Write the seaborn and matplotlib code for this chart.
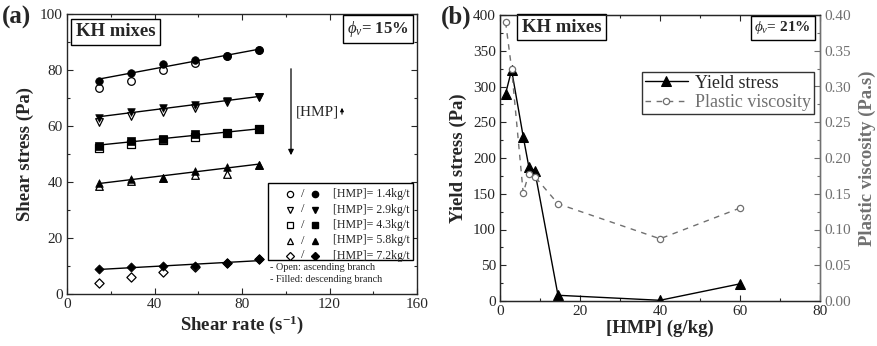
import numpy as np
import pandas as pd
import matplotlib
matplotlib.use("Agg")
import matplotlib.pyplot as plt
import seaborn as sns
from matplotlib.patches import Rectangle
from matplotlib.ticker import MultipleLocator

sns.set_style("ticks")
plt.rcParams['font.family'] = ['Liberation Serif', 'DejaVu Serif']
plt.rcParams['mathtext.fontset'] = 'custom'
plt.rcParams['mathtext.rm'] = 'Liberation Serif'
plt.rcParams['mathtext.it'] = 'Liberation Serif:italic'
plt.rcParams['mathtext.bf'] = 'Liberation Serif:bold'
plt.rcParams['mathtext.bfit'] = 'Liberation Serif:bold:italic'

# ---------------- data panel (a) ----------------
shear_rate = [14.6, 29.2, 43.8, 58.4, 73.0, 87.6]
hmp_labels = ["[HMP]= 1.4kg/t", "[HMP]= 2.9kg/t", "[HMP]= 4.3kg/t",
              "[HMP]= 5.8kg/t", "[HMP]= 7.2kg/t"]
markers_a = ["o", "v", "s", "^", "D"]
asc_14 = [73.5, 76.0, 80.0, 82.5, 85.0, 87.0]
desc_14 = [76.0, 79.0, 82.0, 83.5, 85.0, 87.0]
asc_29 = [61.5, 63.5, 65.0, 66.5, 68.5, 70.5]
desc_29 = [63.0, 65.0, 66.5, 67.5, 69.0, 70.5]
asc_43 = [52.0, 53.5, 55.0, 56.0, 57.5, 59.0]
desc_43 = [53.0, 54.5, 55.5, 57.0, 57.5, 59.0]
asc_58 = [38.5, 40.5, 41.5, 42.5, 43.0, 46.0]
desc_58 = [39.5, 41.0, 41.5, 44.0, 45.5, 46.0]
asc_72 = [4.0, 6.0, 8.0, 9.5, 11.0, 12.5]
desc_72 = [9.0, 9.5, 10.0, 10.0, 11.0, 12.5]
asc_all = [asc_14, asc_29, asc_43, asc_58, asc_72]
desc_all = [desc_14, desc_29, desc_43, desc_58, desc_72]

# ---------------- data panel (b) ----------------
hmp_ys = [1.4, 2.9, 5.8, 7.2, 8.7, 14.5, 40, 60]
yield_stress = [290, 323, 230, 188, 182, 8, 1, 24]
hmp_pv = [1.4, 2.9, 5.8, 7.2, 8.7, 14.5, 40, 60]
plastic_visc = [0.390, 0.325, 0.151, 0.178, 0.174, 0.136, 0.087, 0.130]

W, H = 877, 346
fig = plt.figure(figsize=(W / 100, H / 100), dpi=100)

def fx(px):
    return px / W

def fy(py):
    return 1 - py / H

ax1 = fig.add_axes([fx(67), fy(294), fx(417 - 67), (294 - 14) / H])
ax2 = fig.add_axes([fx(500), fy(301), fx(820 - 500), (301 - 15) / H])

tick_fs = 11
for ax in (ax1, ax2):
    ax.tick_params(direction="in", which="both", top=True, labelsize=tick_fs,
                   width=0.8, pad=3)
    ax.tick_params(which="major", length=4)
    ax.tick_params(which="minor", length=2)
    for s in ax.spines.values():
        s.set_linewidth(1.0)

# ---------- panel (a) ----------
msizes = [30, 30, 26, 30, 22]
for i in range(5):
    m = markers_a[i]
    dfa = pd.DataFrame({"x": shear_rate, "y": asc_all[i]})
    dfd = pd.DataFrame({"x": shear_rate, "y": desc_all[i]})
    sns.scatterplot(data=dfa, x="x", y="y", ax=ax1, marker=m, s=msizes[i],
                    facecolor="white", edgecolor="black", linewidth=0.9, zorder=3)
    sns.scatterplot(data=dfd, x="x", y="y", ax=ax1, marker=m, s=msizes[i],
                    color="black", edgecolor="black", linewidth=0.5, zorder=4)
    coef = np.polyfit(shear_rate, desc_all[i], 1)
    xs = np.array([shear_rate[0], shear_rate[-1]])
    ax1.plot(xs, np.polyval(coef, xs), color="black", lw=1.0, zorder=2)

ax1.set_xlim(0, 160)
ax1.set_ylim(0, 100)
ax1.xaxis.set_major_locator(MultipleLocator(40))
ax1.xaxis.set_minor_locator(MultipleLocator(20))
ax1.yaxis.set_major_locator(MultipleLocator(20))
ax1.yaxis.set_minor_locator(MultipleLocator(10))
ax1.tick_params(right=True, which="both")
ax1.set_xlabel("Shear rate (s$^{\\mathbf{-1}}$)", fontsize=13.5, fontweight="bold", labelpad=2)
ax1.set_ylabel("Shear stress (Pa)", fontsize=13.5, fontweight="bold", labelpad=4)

box = dict(boxstyle="square,pad=0.25", fc="white", ec="black", lw=1.0)
ax1.text(fx(76), fy(32), "KH mixes", transform=fig.transFigure, fontsize=13.5,
         fontweight="bold", va="center", ha="left", bbox=box)
ax1.text(fx(409), fy(29), "$\\boldsymbol{\\phi_v}$= 15%", transform=fig.transFigure,
         fontsize=12, fontweight="bold", va="center", ha="right", bbox=box)
fig.text(fx(2), fy(17), "(a)", fontsize=18, fontweight="bold", va="center", ha="left")

# arrow and [HMP]
ax1.annotate("", xy=(fx(291), fy(158)), xytext=(fx(291), fy(66)),
             xycoords="figure fraction", textcoords="figure fraction",
             arrowprops=dict(arrowstyle="-|>", color="black", lw=0.9,
                             mutation_scale=8))
fig.text(fx(296), fy(112), "[HMP]", fontsize=11, va="center", ha="left")
ax1.annotate("", xy=(fx(342), fy(105)), xytext=(fx(342), fy(117)),
             xycoords="figure fraction", textcoords="figure fraction",
             arrowprops=dict(arrowstyle="-|>", color="black", lw=0.8,
                             mutation_scale=5))

# custom legend (a)
fig.patches.append(Rectangle((fx(268), fy(260)), fx(413 - 268), (260 - 183) / H,
                             transform=fig.transFigure, fc="white", ec="black",
                             lw=1.0, zorder=5))
row_y = [194.5, 210, 225.5, 241, 256]
leg_ms = [4.5, 4.5, 4.0, 4.5, 4.0]
for i in range(5):
    yy = row_y[i] - 0.5
    fig.lines.append(plt.Line2D([fx(290)], [fy(yy)], transform=fig.transFigure,
                                marker=markers_a[i], ms=leg_ms[i], mfc="white", mec="black",
                                mew=0.9, ls="none", zorder=6))
    fig.text(fx(303), fy(yy), "/", fontsize=9, va="center", ha="center", zorder=6)
    fig.lines.append(plt.Line2D([fx(315)], [fy(yy)], transform=fig.transFigure,
                                marker=markers_a[i], ms=leg_ms[i], mfc="black", mec="black",
                                ls="none", zorder=6))
    fig.text(fx(333), fy(yy), hmp_labels[i], fontsize=8.6, va="center", ha="left", zorder=6)
fig.text(fx(270), fy(267), "- Open: ascending branch", fontsize=7.4, va="center", ha="left")
fig.text(fx(270), fy(280), "- Filled: descending branch", fontsize=7.4, va="center", ha="left")

# ---------- panel (b) ----------
dys = pd.DataFrame({"x": hmp_ys, "y": yield_stress})
sns.lineplot(data=dys, x="x", y="y", ax=ax2, color="black", lw=1.0, marker="^",
             ms=6.5, mec="black", label="Yield stress", legend=False)
ax2.set_xlim(0, 80)
ax2.set_ylim(0, 400)
ax2.xaxis.set_major_locator(MultipleLocator(20))
ax2.xaxis.set_minor_locator(MultipleLocator(10))
ax2.yaxis.set_major_locator(MultipleLocator(50))
ax2.yaxis.set_minor_locator(MultipleLocator(25))
ax2.set_xlabel("[HMP] (g/kg)", fontsize=13.5, fontweight="bold", labelpad=1)
ax2.set_ylabel("Yield stress (Pa)", fontsize=13.5, fontweight="bold", labelpad=4)

gray = "#707070"
ax3 = ax2.twinx()
dpv = pd.DataFrame({"x": hmp_pv, "y": plastic_visc})
sns.lineplot(data=dpv, x="x", y="y", ax=ax3, color=gray, lw=1.0, ls=(0, (4, 4)),
             marker="o", ms=4.5, mfc="white", mec=gray, mew=0.9,
             label="Plastic viscosity", legend=False)
ax3.set_ylim(0, 0.40)
ax3.yaxis.set_major_locator(MultipleLocator(0.05))
ax3.yaxis.set_minor_locator(MultipleLocator(0.025))
ax3.yaxis.set_major_formatter(matplotlib.ticker.FormatStrFormatter("%.2f"))
ax3.tick_params(direction="in", which="both", labelsize=tick_fs, colors=gray,
                width=0.8, pad=3)
ax3.tick_params(which="major", length=4)
ax3.tick_params(which="minor", length=2)
ax3.spines["right"].set_color(gray)
ax3.set_ylabel("Plastic viscosity (Pa.s)", fontsize=13.5, fontweight="bold",
               color=gray, labelpad=6)
ax3.set_xlabel("")

ax2.text(fx(522), fy(27), "KH mixes", transform=fig.transFigure, fontsize=13.5,
         fontweight="bold", va="center", ha="left", bbox=box, zorder=10)
ax3.text(fx(811), fy(28), "$\\boldsymbol{\\phi_v}$= 21%", transform=fig.transFigure,
         fontsize=11, fontweight="bold", va="center", ha="right", bbox=box, zorder=10)
fig.text(fx(441), fy(17), "(b)", fontsize=18, fontweight="bold", va="center", ha="left")

h1 = ax2.get_lines()[0]
h2 = ax3.get_lines()[0]
leg = ax3.legend([h1, h2], ["Yield stress", "Plastic viscosity"],
                 loc="upper right", bbox_to_anchor=(fx(814), fy(72)),
                 bbox_transform=fig.transFigure, fontsize=13, frameon=True,
                 fancybox=False, edgecolor="black", handlelength=2.4,
                 borderpad=0.15, labelspacing=0.15, handletextpad=0.4,
                 borderaxespad=0)
leg.get_frame().set_linewidth(1.0)
leg.get_texts()[1].set_color(gray)

fig.savefig("out.png", dpi=100)
